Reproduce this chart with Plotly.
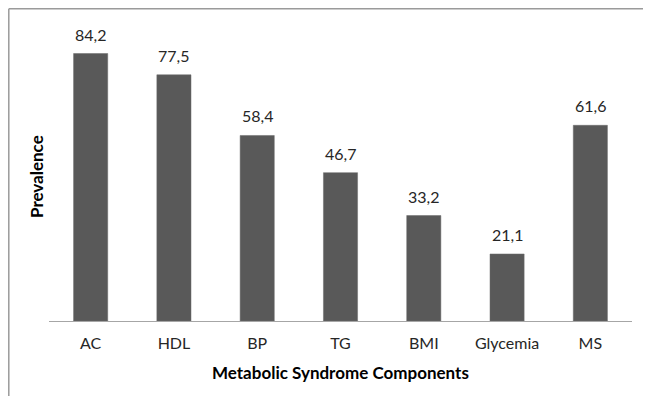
import plotly.graph_objects as go

categories = ["AC", "HDL", "BP", "TG", "BMI", "Glycemia", "MS"]
values = [84.2, 77.5, 58.4, 46.7, 33.2, 21.1, 61.6]
labels = [f"{v:.1f}".replace(".", ",") for v in values]

FONT = "Lato"
# page is rendered with an 8px body offset; margins compensate for it
OFF = 8
L, R, T, B = 49 - OFF, 651 - 632 + OFF, 30 - OFF, 396 - 321 + OFF


def px_x(p):
    return (p - 49) / 583


def px_y(p):
    return (321 - p) / 291


fig = go.Figure(go.Bar(
    x=categories, y=values,
    marker=dict(color="#595959", line=dict(color="#6a6a6a", width=0.5)),
    cliponaxis=False,
))

annotations = [
    dict(x=c, y=v, text=t, xref="x", yref="y", showarrow=False,
         yanchor="bottom", yshift=8,
         font=dict(family=FONT, size=16, color="#262626"))
    for c, v, t in zip(categories, values, labels)
]
annotations += [
    dict(text="<b>Metabolic Syndrome Components</b>", xref="paper", yref="paper",
         x=0.5, y=px_y(372), showarrow=False,
         xanchor="center", yanchor="middle",
         font=dict(family=FONT, size=17, color="#000000")),
    dict(text="<b>Prevalence</b>", xref="paper", yref="paper",
         x=px_x(36), y=px_y(177), showarrow=False, textangle=-90,
         xanchor="center", yanchor="middle",
         font=dict(family=FONT, size=17, color="#000000")),
]

fig.update_layout(
    width=651, height=396,
    margin=dict(l=L, r=R, t=T, b=B),
    paper_bgcolor="white", plot_bgcolor="white",
    bargap=0.59,
    showlegend=False,
    font=dict(family=FONT, color="#262626"),
    xaxis=dict(
        showline=True, linecolor="#a6a6a6", linewidth=1,
        ticks="", tickfont=dict(family=FONT, size=16, color="#262626"),
        ticklabelstandoff=8,
        showgrid=False,
    ),
    yaxis=dict(range=[0, 91.6], showticklabels=False, showgrid=False,
               zeroline=False, showline=False, ticks=""),
    annotations=annotations,
    shapes=[
        dict(type="line", xref="paper", yref="paper",
             x0=px_x(8.8), x1=px_x(8.8), y0=px_y(420), y1=px_y(8.8),
             line=dict(color="#9a9a9a", width=1.5)),
        dict(type="line", xref="paper", yref="paper",
             x0=px_x(8.8), x1=px_x(680), y0=px_y(8.8), y1=px_y(8.8),
             line=dict(color="#9a9a9a", width=1.5)),
    ],
)

fig.write_html("out.html")
